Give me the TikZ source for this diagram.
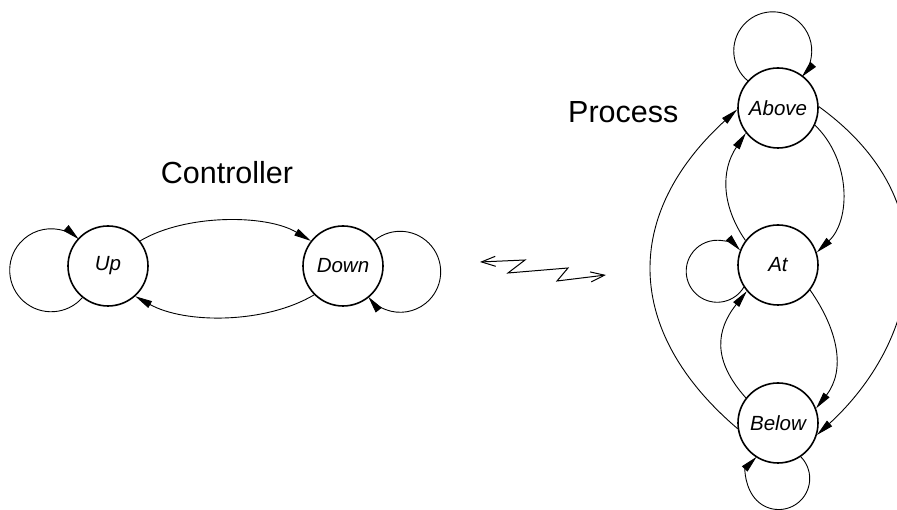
\documentclass[tikz,border=0pt]{standalone}
\usepackage{fontspec}
\setmainfont{Liberation Sans}
\usetikzlibrary{arrows.meta}

\tikzset{
  state/.style={circle, draw, line width=1.6pt, minimum size=80pt, inner sep=0pt,
                font=\fontsize{20.5}{24}\selectfont\itshape},
  conn/.style={line width=0.9pt, -{Triangle[length=17pt,width=7.5pt]}},
  title/.style={font=\fontsize{30.5}{34}\selectfont, inner sep=0pt},
  link/.style={line width=1pt, {Straight Barb[length=14pt,width=10pt]}-{Straight Barb[length=14pt,width=10pt]}}
}

\begin{document}
\begin{tikzpicture}[x=1pt, y=1pt]
  \useasboundingbox (0,0) rectangle (897,510);

  % ---------- Controller ----------
  \node[title, anchor=base] (ctitle) at (227,326) {Controller};
  \node[state] (Up)   at (108,244) {Up};
  \node[state] (Down) at (343,244) {Down};

  \draw[conn] (Up.38) .. controls (185,296) and (266,296) .. (Down.142);
  \draw[conn] (Down.225) .. controls (265,186) and (185,186) .. (Up.-48);
  \draw[conn] (Up.231) arc[start angle=-41.4, end angle=-311.6, radius=41.5];
  \draw[conn] (Down.39) arc[start angle=129, end angle=-142, radius=40.5];

  % ---------- Process ----------
  \node[title, anchor=base west] (ptitle) at (568,387) {Process};
  \node[state] (Above) at (778,402) {Above};
  \node[state] (At)    at (778,245) {At};
  \node[state] (Below) at (778,87)  {Below};

  \draw[conn] (Above.-25) .. controls (851,350) and (851,290) .. (At.18);
  \draw[conn] (At.143) .. controls (721,305) and (721,340) .. (Above.218);
  \draw[conn] (At.-38) .. controls (838,180) and (846,140) .. (Below.21);
  \draw[conn] (Below.142) .. controls (712,150) and (716,180) .. (At.220);
  \draw[conn] (Below.188) .. controls (623,179) and (623,296) .. (Above.182);
  \draw[conn] (Above.2) .. controls (955,305) and (915,165) .. (Below.-17);

  \draw[conn] (Above.138) arc[start angle=230, end angle=-42, radius=39];
  \draw[conn] (At.213) arc[start angle=-31, end angle=-317.6, radius=31];
  \draw[conn] (Below.304) arc[start angle=44.5, end angle=-224.5, radius=31];

  % ---------- communication link ----------
  \coordinate (zl) at (480,248);
  \coordinate (zr) at (606,235);
  \draw[link] (zl) -- (525,250) -- (508,237) -- (568,242) -- (557,229) -- (zr);
\end{tikzpicture}
\end{document}
